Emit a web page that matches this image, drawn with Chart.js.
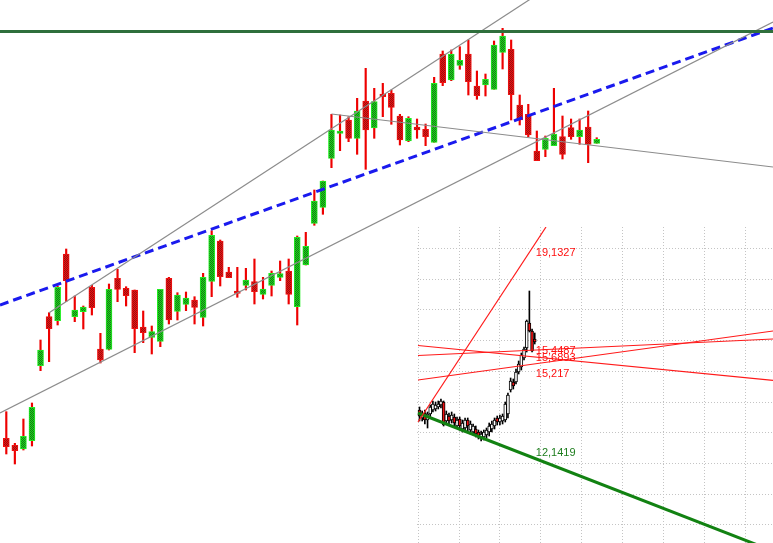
<!DOCTYPE html>
<html>
<head>
<meta charset="utf-8">
<script src="https://cdn.jsdelivr.net/npm/chart.js@4.4.1/dist/chart.umd.min.js"></script>
<style>
    html, body { margin: 0; padding: 0; background: #ffffff; }
    #wrap { position: relative; width: 773px; height: 543px; overflow: hidden; }
    #mainChart { position: absolute; left: 0; top: 0; }
    #insetChart { position: absolute; left: 417px; top: 227px; background: #ffffff; }
</style>
</head>
<body>
<div id="wrap">
    <canvas id="mainChart" width="773" height="543"></canvas>
    <canvas id="insetChart" width="356" height="316"></canvas>
</div>
<script>
// main candles (price units)
const open = [10.47, 9.77, 9.40, 10.23, 17.73, 22.63, 22.23, 28.90, 22.63, 23.13,
    25.57, 19.40, 19.37, 26.47, 25.47, 25.30, 21.60, 20.57, 20.17, 26.47,
    23.17, 23.87, 24.30, 22.57, 26.17, 30.20, 27.10, 25.20, 25.77, 26.13,
    24.87, 25.77, 26.57, 27.20, 23.63, 27.80, 31.97, 33.57, 38.47, 40.97,
    42.30, 40.47, 44.20, 41.50, 44.90, 44.97, 42.70, 40.20, 41.60, 41.37,
    40.07, 48.90, 46.30, 47.77, 48.90, 45.70, 45.80, 45.37, 49.07, 49.37,
    43.80, 42.87, 39.20, 39.37, 39.73, 40.63, 41.53, 40.63, 41.60, 39.97];
const high = [13.13, 9.97, 12.40, 14.00, 20.30, 23.03, 25.70, 29.40, 24.70, 23.70,
    25.77, 20.97, 25.90, 27.37, 25.63, 25.30, 23.20, 21.70, 25.37, 26.57,
    25.03, 25.10, 24.63, 26.97, 31.23, 30.30, 27.57, 27.57, 27.47, 28.40,
    26.57, 27.20, 28.20, 28.40, 30.70, 31.07, 35.30, 36.20, 42.87, 42.80,
    42.63, 44.47, 47.47, 45.47, 45.97, 45.30, 42.87, 42.63, 42.40, 41.90,
    46.57, 49.20, 49.30, 49.63, 50.30, 47.20, 46.90, 50.20, 51.47, 50.30,
    44.80, 43.87, 41.20, 40.70, 45.47, 42.70, 42.40, 42.40, 43.20, 40.53];
const low = [8.90, 7.90, 9.30, 9.70, 17.23, 18.13, 21.80, 24.13, 22.13, 21.40,
    22.80, 18.00, 19.30, 24.13, 23.70, 19.03, 20.03, 18.90, 19.63, 21.90,
    22.30, 23.23, 21.90, 21.70, 24.63, 25.70, 26.53, 24.57, 25.30, 23.90,
    24.40, 24.70, 26.23, 23.90, 21.80, 27.80, 31.77, 32.87, 37.53, 39.23,
    40.13, 38.87, 37.37, 40.47, 42.63, 41.87, 39.80, 40.13, 40.47, 39.73,
    40.07, 45.73, 46.23, 47.37, 44.80, 44.37, 44.70, 45.37, 47.40, 42.30,
    41.80, 40.63, 38.23, 38.63, 39.73, 38.40, 40.37, 39.87, 38.03, 39.97];
const close = [9.63, 9.23, 10.67, 13.57, 19.30, 21.43, 25.57, 26.23, 23.30, 23.60,
    23.53, 18.30, 25.37, 25.37, 24.73, 21.43, 21.03, 21.13, 25.37, 22.30,
    24.80, 24.50, 23.57, 26.57, 30.77, 26.63, 26.53, 24.97, 26.30, 25.13,
    25.40, 26.97, 26.93, 24.87, 30.57, 29.67, 34.20, 36.20, 41.30, 41.20,
    40.47, 43.20, 41.30, 44.13, 44.63, 43.57, 40.30, 42.47, 41.30, 40.63,
    45.97, 46.03, 48.90, 48.27, 46.13, 44.73, 46.37, 49.80, 50.70, 44.83,
    42.30, 40.80, 38.23, 40.47, 40.90, 38.87, 40.63, 41.30, 39.87, 40.37];

// main drawn lines: [bar index, price] end points
const levelLine = [[-0.74, 51.15], [89.6, 51.15]];
const blueTrend = [[-0.74, 23.8], [89.6, 51.5]];
const upperChannel = [[5, 23.03], [89.6, 70.2]];
const lowerChannel = [[-0.74, 13.0], [89.6, 52.1]];
const flatLine = [[38, 42.9], [89.6, 37.6]];

// inset candles
const insetOpen = [13.3, 12.5, 13.0, 12.3, 12.9, 13.3, 13.4, 13.6, 13.8, 14.1,
    12.2, 12.7, 12.3, 12.6, 11.7, 12.4, 11.4, 11.5, 12.3, 11.3,
    11.1, 11.4, 11.1, 10.5, 10.6, 10.8, 11.1, 11.4, 11.7, 12.5,
    12.1, 12.2, 12.3, 12.9, 15.3, 16.1, 16.1, 17.1, 17.6, 18.5,
    19.5, 22.0, 21.2, 20.4];
const insetHigh = [13.6, 13.2, 13.3, 13.1, 13.8, 14.2, 14.1, 14.2, 14.4, 14.2,
    13.2, 13.0, 13.1, 12.9, 12.6, 12.6, 12.3, 12.5, 12.5, 12.2,
    11.9, 11.7, 11.3, 11.2, 11.3, 11.5, 12.0, 12.2, 12.5, 12.7,
    12.8, 12.9, 14.1, 15.0, 16.5, 16.4, 17.4, 18.2, 19.0, 19.6,
    22.3, 25.2, 21.4, 21.0];
const insetLow = [12.2, 12.2, 11.9, 11.5, 12.6, 13.1, 13.2, 13.4, 13.5, 11.7,
    11.9, 11.8, 12.0, 11.7, 11.5, 11.3, 11.1, 11.1, 11.2, 10.9,
    10.8, 10.6, 10.4, 10.2, 10.3, 10.5, 10.7, 11.1, 11.4, 11.8,
    11.8, 11.9, 12.1, 12.5, 15.1, 15.4, 15.9, 16.9, 17.3, 18.3,
    19.1, 21.1, 19.1, 19.9];
const insetClose = [12.7, 13.0, 12.3, 12.9, 13.6, 13.9, 13.8, 13.9, 14.2, 11.8,
    12.9, 12.2, 12.8, 12.0, 12.3, 11.7, 12.0, 12.3, 11.7, 11.9,
    11.7, 10.9, 10.7, 10.9, 11.1, 11.3, 11.7, 11.9, 12.3, 12.1,
    12.5, 12.7, 13.9, 14.8, 16.2, 15.7, 17.1, 17.9, 18.8, 19.4,
    22.2, 21.2, 19.2, 20.1];

// inset lines
const steepLine = [[-0.56, 12.1], [47.2, 31.6]];
const lineA = [[-0.56, 19.75], [131.9, 16.27]];
const lineB = [[-0.56, 18.75], [131.9, 20.4]];
const lineC = [[-0.56, 16.3], [131.9, 21.2]];
const supportLine = [[-0.56, 13.0], [131.9, -0.8]];

const labelTexts = ['19,1327', '15,4487', '15,6893', '15,217', '12,1419'];
const labelValues = [29.05, 19.2, 18.55, 16.9, 9.05];
const labelColors = ['#ff1010', '#ff1010', '#ff1010', '#ff1010', '#1e7d1e'];
const labelIndex = 43.4;

function checker(c1, c2) {
    const p = document.createElement('canvas');
    p.width = 2; p.height = 2;
    const g = p.getContext('2d');
    g.fillStyle = c1; g.fillRect(0, 0, 2, 2);
    g.fillStyle = c2; g.fillRect(0, 0, 1, 1); g.fillRect(1, 1, 1, 1);
    return g.createPattern(p, 'repeat');
}

function pts(pairs) {
    return pairs.map(p => ({x: p[0], y: p[1]}));
}

function lineSet(pairs, color, width, dash) {
    return {
        type: 'line',
        data: pts(pairs),
        borderColor: color,
        borderWidth: width,
        borderDash: dash || [],
        pointRadius: 0,
        fill: false,
        tension: 0,
        order: 0
    };
}

document.addEventListener('DOMContentLoaded', function() {
    const greenFill = checker('#1ed41e', '#137a13');
    const redFill = checker('#ee1010', '#961010');

    const isUp = i => close[i] >= open[i];
    const idx = open.map((_, i) => i);

    new Chart(document.getElementById('mainChart'), {
        type: 'bar',
        data: {
            datasets: [
                {
                    data: idx.map(i => ({x: i, y: [low[i], high[i]]})),
                    backgroundColor: '#ee0000',
                    barThickness: 1.5,
                    grouped: false,
                    order: 2
                },
                {
                    data: idx.map(i => ({x: i, y: [open[i], close[i]]})),
                    backgroundColor: ctx => (ctx.dataIndex !== undefined && isUp(ctx.dataIndex)) ? greenFill : redFill,
                    borderColor: ctx => (ctx.dataIndex !== undefined && isUp(ctx.dataIndex)) ? '#22ee22' : '#ee1111',
                    borderWidth: 1,
                    borderSkipped: false,
                    barThickness: 6,
                    grouped: false,
                    order: 1
                },
                lineSet(levelLine, '#2f6f3c', 3),
                lineSet(upperChannel, '#8c8c8c', 1.2),
                lineSet(lowerChannel, '#8c8c8c', 1.2),
                lineSet(flatLine, '#8c8c8c', 1.2),
                lineSet(blueTrend, '#1a1aee', 3, [9, 5])
            ]
        },
        options: {
            responsive: false,
            animation: false,
            devicePixelRatio: 1,
            layout: { padding: 0 },
            plugins: { legend: { display: false }, tooltip: { enabled: false } },
            scales: {
                x: { type: 'linear', min: -0.736, max: 89.6, offset: false, display: false },
                y: { min: 0, max: 54.3, display: false }
            }
        }
    });

    // inset chart
    const insetUp = i => insetClose[i] >= insetOpen[i];
    const insetIdx = insetOpen.map((_, i) => i);

    const labelPlugin = {
        id: 'lineLabels',
        afterDatasetsDraw(chart) {
            const ctx = chart.ctx;
            const xs = chart.scales.x, ys = chart.scales.y;
            ctx.save();
            ctx.font = '11px "Liberation Sans", Arial, sans-serif';
            ctx.textBaseline = 'middle';
            ctx.textAlign = 'left';
            labelTexts.forEach((t, k) => {
                ctx.fillStyle = labelColors[k];
                ctx.fillText(t, xs.getPixelForValue(labelIndex), ys.getPixelForValue(labelValues[k]));
            });
            ctx.restore();
        }
    };

    const gridStyle = {
        color: '#c4c4c4',
        lineWidth: 1,
        drawTicks: false,
        offset: false
    };

    new Chart(document.getElementById('insetChart'), {
        type: 'bar',
        data: {
            datasets: [
                {
                    data: insetIdx.map(i => ({x: i, y: [insetLow[i], insetHigh[i]]})),
                    backgroundColor: '#000000',
                    barThickness: 1,
                    grouped: false,
                    order: 2
                },
                {
                    data: insetIdx.map(i => ({x: i, y: [insetOpen[i], insetClose[i]]})),
                    backgroundColor: ctx => (ctx.dataIndex !== undefined && insetUp(ctx.dataIndex)) ? '#ffffff' : '#ee1111',
                    borderColor: '#000000',
                    borderWidth: 1,
                    borderSkipped: false,
                    barThickness: 3,
                    grouped: false,
                    order: 1
                },
                lineSet(steepLine, '#ff1a1a', 1.2),
                lineSet(lineA, '#ff1a1a', 1.2),
                lineSet(lineB, '#ff1a1a', 1.2),
                lineSet(lineC, '#ff1a1a', 1.2),
                lineSet(supportLine, '#128212', 3)
            ]
        },
        options: {
            responsive: false,
            animation: false,
            devicePixelRatio: 1,
            layout: { padding: 0 },
            plugins: { legend: { display: false }, tooltip: { enabled: false } },
            scales: {
                x: {
                    type: 'linear', min: -0.933, max: 131.9, offset: false,
                    ticks: { display: false },
                    grid: gridStyle,
                    border: { display: false, dash: [1, 2] },
                    afterBuildTicks: s => {
                        const t = [];
                        for (let k = 0; k < 9; k++) t.push({value: -0.45 + k * 15.24});
                        s.ticks = t;
                    }
                },
                y: {
                    min: 0, max: 31.6,
                    ticks: { display: false },
                    grid: gridStyle,
                    border: { display: false, dash: [1, 2] },
                    afterBuildTicks: s => {
                        const t = [];
                        for (let k = 0; k < 10; k++) t.push({value: 29.47 - k * 3.074});
                        s.ticks = t;
                    }
                }
            }
        },
        plugins: [labelPlugin]
    });
});
</script>
</body>
</html>
